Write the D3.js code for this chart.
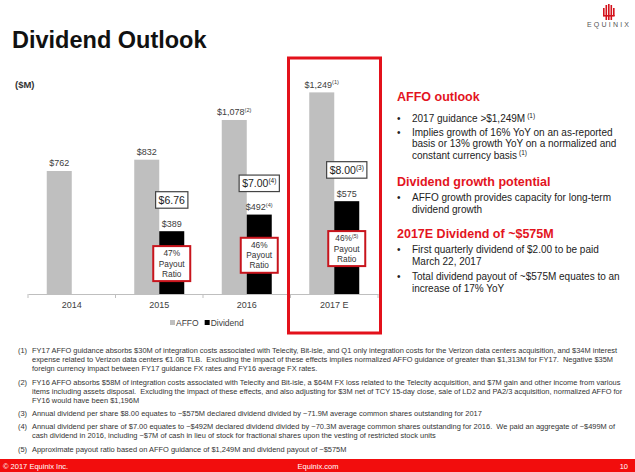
<!DOCTYPE html>
<html><head><meta charset="utf-8">
<script src="https://cdn.jsdelivr.net/npm/d3@7"></script>
<style>
html,body{margin:0;padding:0;background:#fff;}
svg{display:block;font-family:"Liberation Sans",Arial,sans-serif;}
</style></head>
<body><svg id="c" width="635" height="472"></svg>
<script>
// ---- data ----
const years = ["2014", "2015", "2016", "2017 E"];
const series = ["AFFO", "Dividend"];
const affo = [762, 832, 1078, 1249];
const dividend = [null, 389, 492, 575];
const affoLabels = ["$762", "$832", "$1,078", "$1,249"];
const affoNotes = ["", "", "(2)", "(1)"];
const dividendLabels = ["", "$389", "$492", "$575"];
const dividendNotes = ["", "", "(4)", ""];
const dpsLabels = [null, "$6.76", "$7.00", "$8.00"];
const dpsNotes = ["", "", "(4)", "(3)"];
const payoutRatios = [null, "47%", "46%", "46%"];
const payoutNotes = ["", "", "", "(5)"];

const svg = d3.select("#c");
svg.append("rect").attr("width", 635).attr("height", 472).attr("fill", "#fff");

// title
svg.append("text").attr("x", 12).attr("y", 48).attr("font-size", 23.5).attr("font-weight", "bold")
  .attr("fill", "#111").text("Dividend Outlook");

// logo
const logo = svg.append("g").attr("fill", "#d4121c");
[[603,8,12],[605.5,5,16],[608,4,16],[610.5,5,16],[613,8,12]].forEach(([x,y,y2])=>{
  logo.append("rect").attr("x", x).attr("y", y).attr("width", 1.6).attr("height", y2 - y + 4);
});
logo.append("rect").attr("x", 603).attr("y", 15).attr("width", 11.6).attr("height", 1.6);
svg.append("text").attr("x", 587).attr("y", 27).attr("font-size", 7).attr("letter-spacing", 2.2)
  .attr("fill", "#555").text("EQUINIX");

// ---- chart ----
const x = d3.scaleBand().domain(years).range([28, 378]).paddingInner(0).paddingOuter(0);
const xs = d3.scaleBand().domain(series).range([0, x.bandwidth()]).paddingInner(0).paddingOuter(0.75);
const y = d3.scaleLinear().domain([0, 1400]).range([294, 68]);
const color = {AFFO: "#bfbfbf", Dividend: "#000"};
const labelColor = "#404040";

svg.append("text").attr("x", 15).attr("y", 87.5).attr("font-size", 9.5).attr("font-weight", "bold")
  .attr("fill", "#333").text("($M)");

const g = svg.append("g");
// AFFO bars
g.selectAll(".affo").data(years).join("rect")
  .attr("x", d => x(d) + xs("AFFO")).attr("width", xs.bandwidth())
  .attr("y", (d,i) => y(affo[i])).attr("height", (d,i) => y(0) - y(affo[i]))
  .attr("fill", color.AFFO);
// Dividend bars
g.selectAll(".div").data(years.filter((d,i)=>dividend[i]!=null)).join("rect")
  .attr("x", d => x(d) + xs("Dividend")).attr("width", xs.bandwidth())
  .attr("y", d => y(dividend[years.indexOf(d)])).attr("height", d => y(0) - y(dividend[years.indexOf(d)]))
  .attr("fill", color.Dividend);

function labelWithNote(sel, txt, note, size) {
  sel.append("tspan").text(txt);
  if (note) sel.append("tspan").attr("font-size", size * 0.62).attr("dy", -size * 0.38).text(note);
}
// AFFO labels
years.forEach((d, i) => {
  const t = g.append("text").attr("x", x(d) + xs("AFFO") + xs.bandwidth() / 2).attr("y", y(affo[i]) - 4.5)
    .attr("text-anchor", "middle").attr("font-size", 9).attr("fill", labelColor);
  labelWithNote(t, affoLabels[i], affoNotes[i], 9);
  if (dividend[i] != null) {
    const cx = x(d) + xs("Dividend") + xs.bandwidth() / 2;
    const t2 = g.append("text").attr("x", cx).attr("y", y(dividend[i]) - 4.5)
      .attr("text-anchor", "middle").attr("font-size", 9).attr("fill", labelColor);
    labelWithNote(t2, dividendLabels[i], dividendNotes[i], 9);
    // DPS box
    const boxBottom = y(dividend[i]) - 23;
    const bg = g.append("g");
    const rect = bg.append("rect").attr("fill", "#fff").attr("stroke", "#444").attr("stroke-width", 1.2);
    const t3 = bg.append("text").attr("x", cx).attr("y", boxBottom - 4.5)
      .attr("text-anchor", "middle").attr("font-size", 10.5).attr("fill", "#222");
    labelWithNote(t3, dpsLabels[i], dpsNotes[i], 10.5);
    const w = t3.node().getComputedTextLength() + 6;
    rect.attr("x", cx - w / 2).attr("y", boxBottom - 16.5).attr("width", w).attr("height", 16.5);
    // payout box
    const pc = y(dividend[i] / 2) + 1;
    const pg = g.append("g");
    pg.append("rect").attr("x", cx - 18.5).attr("y", pc - 17.5).attr("width", 37).attr("height", 35)
      .attr("fill", "#fff").attr("stroke", "#c8141c").attr("stroke-width", 2);
    const l1 = pg.append("text").attr("x", cx).attr("y", pc - 7.5).attr("text-anchor", "middle")
      .attr("font-size", 8.3).attr("fill", "#333");
    labelWithNote(l1, payoutRatios[i], payoutNotes[i], 8.3);
    ["Payout", "Ratio"].forEach((s, k) => pg.append("text").attr("x", cx).attr("y", pc + 3 + k * 10)
      .attr("text-anchor", "middle").attr("font-size", 8.3).attr("fill", "#333").text(s));
  }
});

// x axis
const ax = svg.append("g").attr("transform", "translate(0,294)")
  .call(d3.axisBottom(x).tickSize(0).tickSizeOuter(0).tickPadding(8));
ax.select(".domain").attr("stroke", "#bfbfbf");
ax.selectAll("text").attr("font-size", 9).attr("fill", labelColor).attr("font-family", "Liberation Sans, Arial, sans-serif");
ax.selectAll(".bound").data(years.map(d => x(d)).concat([x.range()[1]])).join("line")
  .attr("x1", d => d).attr("x2", d => d).attr("y1", 0).attr("y2", 4).attr("stroke", "#bfbfbf");

// legend
const lg = svg.append("g").attr("transform", "translate(170,323)");
let lx = 0;
series.forEach(s => {
  lg.append("rect").attr("x", lx).attr("y", -3).attr("width", 5).attr("height", 5).attr("fill", color[s]);
  const t = lg.append("text").attr("x", lx + 6).attr("y", 3).attr("font-size", 8.5).attr("fill", labelColor).text(s);
  lx += 6 + t.node().getComputedTextLength() + 6;
});

// highlight box around 2017E
svg.append("rect").attr("x", x("2017 E") - 2).attr("y", 58)
  .attr("width", x.bandwidth() + 4.5).attr("height", 275)
  .attr("fill", "none").attr("stroke", "#e3111b").attr("stroke-width", 3);

// ---- right panel text ----
const red = "#e3141e";
const rp = svg.append("g");
function head(txt, yy) {
  rp.append("text").attr("x", 397).attr("y", yy).attr("font-size", 12.5).attr("font-weight", "bold")
    .attr("fill", red).text(txt);
}
function bullet(lines, yy, note) {
  rp.append("text").attr("x", 397).attr("y", yy).attr("font-size", 10).attr("fill", "#222").text("•");
  lines.forEach((s, k) => {
    const t = rp.append("text").attr("x", 412).attr("y", yy + k * 11.7).attr("font-size", 10).attr("fill", "#222");
    t.append("tspan").text(s);
    if (note && k === lines.length - 1) t.append("tspan").attr("font-size", 6.5).attr("dy", -4).attr("dx", 2).text(note);
  });
}
head("AFFO outlook", 100.5);
bullet(["2017 guidance >$1,249M"], 121.5, "(1)");
bullet(["Implies growth of 16% YoY on an as-reported", "basis or 13% growth YoY on a normalized and", "constant currency basis"], 135.5, "(1)");
head("Dividend growth potential", 185.5);
bullet(["AFFO growth provides capacity for long-term", "dividend growth"], 200.8);
head("2017E Dividend of ~$575M", 237.5);
bullet(["First quarterly dividend of $2.00 to be paid", "March 22, 2017"], 252.8);
bullet(["Total dividend payout of ~$575M equates to an", "increase of 17% YoY"], 279.8);

// ---- footnotes ----
const notes = [
  ["(1)", ["FY17 AFFO guidance absorbs $30M of integration costs associated with Telecity, Bit-isle, and Q1 only integration costs for the Verizon data centers acquisition, and $34M interest",
           "expense related to Verizon data centers €1.0B TLB.  Excluding the impact of these effects implies normalized AFFO guidance of greater than $1,313M for FY17.  Negative $35M",
           "foreign currency impact between FY17 guidance FX rates and FY16 average FX rates."], 353],
  ["(2)", ["FY16 AFFO absorbs $58M of integration costs associated with Telecity and Bit-isle, a $64M FX loss related to the Telecity acquisition, and $7M gain and other income from various",
           "items including assets disposal.  Excluding the impact of these effects, and also adjusting for $3M net of TCY 15-day close, sale of LD2 and PA2/3 acquisition, normalized AFFO for",
           "FY16 would have been $1,196M"], 385],
  ["(3)", ["Annual dividend per share $8.00 equates to ~$575M declared dividend divided by ~71.9M average common shares outstanding for 2017"], 416],
  ["(4)", ["Annual dividend per share of $7.00 equates to ~$492M declared dividend divided by ~70.3M average common shares outstanding for 2016.  We paid an aggregate of ~$499M of",
           "cash dividend in 2016, including ~$7M of cash in lieu of stock for fractional shares upon the vesting of restricted stock units"], 429],
  ["(5)", ["Approximate payout ratio based on AFFO guidance of $1,249M and dividend payout of ~$575M"], 452]
];
const fn = svg.append("g").attr("font-size", 7.45).attr("fill", "#333");
notes.forEach(([n, lines, yy]) => {
  fn.append("text").attr("x", 18).attr("y", yy).text(n);
  lines.forEach((s, k) => fn.append("text").attr("x", 32).attr("y", yy + k * 9).attr("xml:space", "preserve").text(s));
});

// ---- footer ----
svg.append("rect").attr("x", 0).attr("y", 459).attr("width", 635).attr("height", 13).attr("fill", "#f20d0d");
const ft = svg.append("g").attr("font-size", 7.5).attr("fill", "#fff");
ft.append("text").attr("x", 3).attr("y", 469).text("© 2017 Equinix Inc.");
ft.append("text").attr("x", 318).attr("y", 469).attr("text-anchor", "middle").text("Equinix.com");
ft.append("text").attr("x", 628).attr("y", 469).attr("text-anchor", "end").text("10");
</script></body></html>
